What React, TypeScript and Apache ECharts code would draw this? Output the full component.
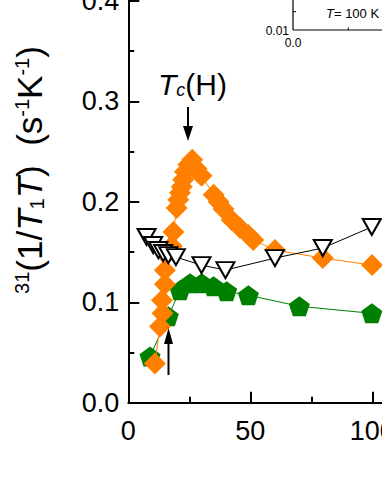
import React, { useEffect, useRef } from "react";
import * as echarts from "echarts";

// Orange diamonds: T (K), 31(1/T1T) (s^-1 K^-1)
const orangeT = [10.9, 13.0, 14.0, 13.8, 15.0, 15.0, 15.5, 17.8, 18.5, 19.8, 20.5, 21.2, 21.9, 22.5, 23.2, 24.6, 26.2, 28.0, 30.0, 35.0, 37.0, 39.0, 42.4, 45.8, 49.2, 51.2, 60.1, 79.7, 99.9];
const orangeV = [0.039, 0.076, 0.089, 0.102, 0.118, 0.132, 0.147, 0.156, 0.170, 0.194, 0.202, 0.209, 0.215, 0.222, 0.230, 0.237, 0.242, 0.233, 0.226, 0.207, 0.200, 0.193, 0.182, 0.174, 0.167, 0.162, 0.152, 0.144, 0.137];

// Open down-triangles
const triT = [7.5, 10.2, 12.3, 14.3, 16.4, 19.5, 30.0, 39.8, 60.1, 79.7, 99.8];
const triV = [0.165, 0.157, 0.152, 0.149, 0.147, 0.145, 0.137, 0.132, 0.144, 0.154, 0.175];

// Green pentagons
const greenT = [8.9, 16.4, 21.2, 25.3, 30.1, 34.9, 40.3, 49.2, 70.1, 99.8];
const greenV = [0.046, 0.086, 0.112, 0.119, 0.119, 0.116, 0.111, 0.107, 0.096, 0.089];

const xTicks = [0, 50, 100, 150];
const yTicks = [0.0, 0.1, 0.2, 0.3, 0.4];

const FONT = "'Liberation Sans', Arial, Helvetica, sans-serif";
const ORANGE = "#ff8000";
const GREEN = "#008000";
const PENTAGON = "path://M0,-1 L0.951,-0.309 L0.588,0.809 L-0.588,0.809 L-0.951,-0.309 Z";

const zip = (a: number[], b: number[]) => a.map((v, i) => [v, b[i]]);

export default function App() {
  const ref = useRef<HTMLDivElement>(null);
  useEffect(() => {
    if (!ref.current) return;
    const chart = echarts.init(ref.current, undefined, { renderer: "svg" });
    const axisLine = { show: true, onZero: false, lineStyle: { color: "#000", width: 2 } };
    chart.setOption({
      animation: false,
      backgroundColor: "#fff",
      grid: { left: 128.3, top: 1, width: 366, height: 401.7, containLabel: false, outerBoundsMode: "none" },
      xAxis: {
        type: "value",
        min: xTicks[0],
        max: xTicks[xTicks.length - 1],
        interval: 50,
        axisLine,
        axisTick: { show: true, inside: true, length: 11, lineStyle: { color: "#000", width: 2 } },
        minorTick: { show: true, splitNumber: 2, length: 6, lineStyle: { color: "#000", width: 2 } },
        splitLine: { show: false },
        axisLabel: { color: "#000", fontSize: 27, fontFamily: FONT, margin: 15 },
      },
      yAxis: {
        type: "value",
        min: yTicks[0],
        max: yTicks[yTicks.length - 1],
        interval: 0.1,
        axisLine,
        axisTick: { show: true, inside: true, length: 11, lineStyle: { color: "#000", width: 2 } },
        minorTick: { show: true, splitNumber: 2, length: 6, lineStyle: { color: "#000", width: 2 } },
        splitLine: { show: false },
        axisLabel: {
          color: "#000",
          fontSize: 27,
          fontFamily: FONT,
          margin: 9,
          formatter: (v: number) => v.toFixed(1),
        },
      },
      series: [
        {
          type: "line",
          data: zip(greenT, greenV),
          symbol: PENTAGON,
          symbolSize: [21, 20],
          lineStyle: { color: GREEN, width: 1 },
          itemStyle: { color: GREEN },
          z: 2,
        },
        {
          type: "line",
          data: zip(orangeT, orangeV),
          symbol: "diamond",
          symbolSize: 22,
          lineStyle: { color: ORANGE, width: 1 },
          itemStyle: { color: ORANGE },
          z: 3,
        },
        {
          type: "line",
          data: zip(triT, triV),
          symbol: "triangle",
          symbolRotate: 180,
          symbolSize: [18, 16],
          lineStyle: { color: "#000", width: 1 },
          itemStyle: { color: "#fff", borderColor: "#000", borderWidth: 2 },
          z: 4,
        },
      ],
      graphic: [
        // y-axis title
        {
          type: "text",
          x: 29,
          y: 170,
          rotation: Math.PI / 2,
          style: {
            text: "{sup|31}{n|(1/}{i|T}{sub|1}{i|T}{n|)  (s}{sup|-1}{n|K}{sup|-1}{n|)}",
            align: "center",
            verticalAlign: "middle",
            fill: "#000",
            rich: {
              n: { fontSize: 35, fontFamily: FONT, fill: "#000" },
              i: { fontSize: 35, fontFamily: FONT, fontStyle: "italic", fill: "#000" },
              sup: { fontSize: 20, fontFamily: FONT, verticalAlign: "top", fill: "#000" },
              sub: { fontSize: 20, fontFamily: FONT, verticalAlign: "bottom", fill: "#000" },
            },
          },
        },
        // Tc(H) label
        {
          type: "text",
          x: 158,
          y: 84,
          style: {
            text: "{i|T}{sub|c}{n|(H)}",
            align: "left",
            verticalAlign: "middle",
            rich: {
              n: { fontSize: 30, fontFamily: FONT, fill: "#000" },
              i: { fontSize: 30, fontFamily: FONT, fontStyle: "italic", fill: "#000" },
              sub: { fontSize: 18, fontFamily: FONT, fontStyle: "italic", verticalAlign: "bottom", fill: "#000" },
            },
          },
        },
        // down arrow
        { type: "line", shape: { x1: 188, y1: 107, x2: 188, y2: 130 }, style: { stroke: "#000", lineWidth: 2 } },
        { type: "polygon", shape: { points: [[183, 126], [193, 126], [188, 141]] }, style: { fill: "#000" } },
        // up arrow
        { type: "line", shape: { x1: 168.5, y1: 375, x2: 168.5, y2: 340 }, style: { stroke: "#000", lineWidth: 2 } },
        { type: "polygon", shape: { points: [[164, 344], [173, 344], [168.5, 328]] }, style: { fill: "#000" } },
        // inset fragment
        { type: "line", shape: { x1: 293, y1: 0, x2: 293, y2: 30 }, style: { stroke: "#000", lineWidth: 1.2 } },
        { type: "line", shape: { x1: 293, y1: 30, x2: 382, y2: 30 }, style: { stroke: "#000", lineWidth: 1.2 } },
        { type: "line", shape: { x1: 293, y1: 11.7, x2: 296, y2: 11.7 }, style: { stroke: "#000", lineWidth: 1 } },
        { type: "line", shape: { x1: 348.3, y1: 30, x2: 348.3, y2: 27.5 }, style: { stroke: "#000", lineWidth: 1 } },
        {
          type: "text",
          x: 289,
          y: 31,
          style: { text: "0.01", align: "right", verticalAlign: "middle", fontSize: 12, fontFamily: FONT, fill: "#000" },
        },
        {
          type: "text",
          x: 293,
          y: 43,
          style: { text: "0.0", align: "center", verticalAlign: "middle", fontSize: 12, fontFamily: FONT, fill: "#000" },
        },
        {
          type: "text",
          x: 326,
          y: 13,
          style: {
            text: "{i|T}{n|= 100 K}",
            align: "left",
            verticalAlign: "middle",
            rich: {
              n: { fontSize: 13, fontFamily: FONT, fill: "#000" },
              i: { fontSize: 13, fontFamily: FONT, fontStyle: "italic", fill: "#000" },
            },
          },
        },
      ],
    });
    return () => chart.dispose();
  }, []);
  return (
    <div style={{ position: "fixed", left: 0, top: 0, width: 382, height: 494, overflow: "hidden", background: "#fff" }}>
      <div ref={ref} style={{ width: 600, height: 494 }} />
    </div>
  );
}
